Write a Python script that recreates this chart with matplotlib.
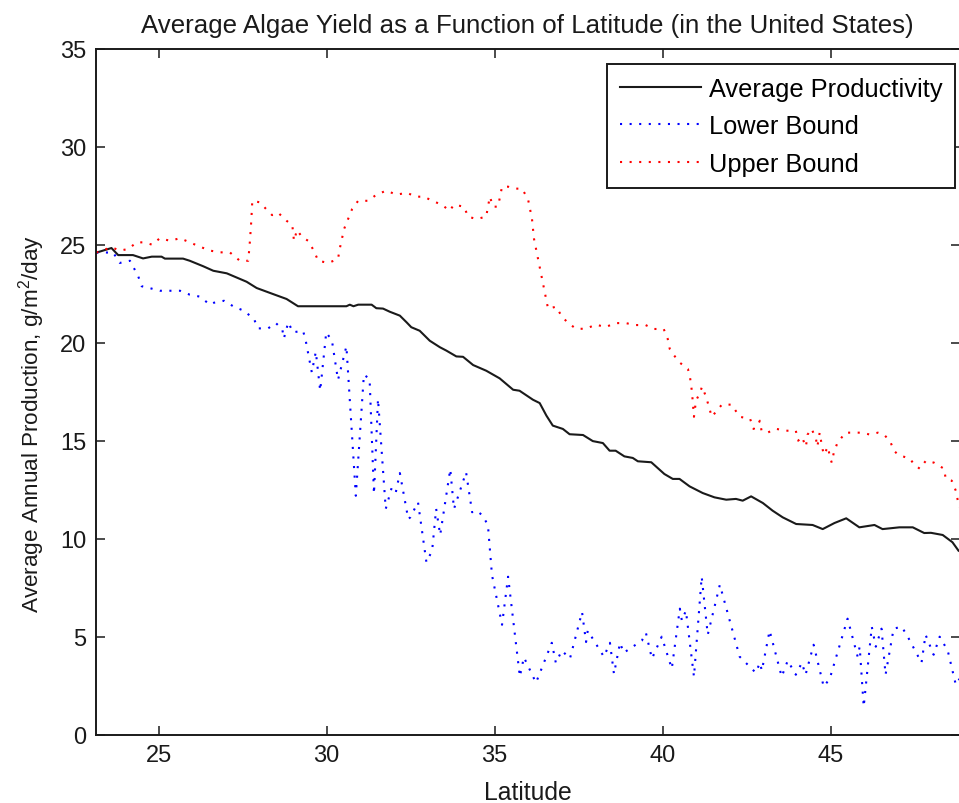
import matplotlib
matplotlib.use("Agg")
import matplotlib.pyplot as plt

# Average productivity curve
avg_lat = [23.16, 23.6, 23.8, 24.24, 24.54, 24.8, 25.09, 25.19, 25.73, 25.93,
           26.33, 26.63, 27.03, 27.62, 27.92, 28.41, 28.81, 29.15, 30.59, 30.69,
           30.8, 30.94, 31.34, 31.48, 31.68, 31.88, 32.18, 32.38, 32.52, 32.77,
           33.07, 33.37, 33.56, 33.86, 34.06, 34.36, 34.75, 35.15, 35.55, 35.74,
           36.14, 36.34, 36.54, 36.73, 37.03, 37.23, 37.63, 37.92, 38.22, 38.42,
           38.6, 38.86, 39.11, 39.26, 39.66, 40.05, 40.3, 40.5, 40.8, 41.19,
           41.54, 41.89, 42.18, 42.38, 42.63, 42.98, 43.27, 43.57, 43.97, 44.46,
           44.76, 45.11, 45.46, 45.85, 46.3, 46.54, 47.04, 47.44, 47.78, 47.98,
           48.33, 48.62, 48.8]
avg_val = [24.6, 24.83, 24.47, 24.47, 24.3, 24.39, 24.39, 24.29, 24.29, 24.18,
           23.9, 23.67, 23.54, 23.11, 22.79, 22.48, 22.23, 21.86, 21.86, 21.94,
           21.86, 21.94, 21.94, 21.76, 21.74, 21.58, 21.38, 21.04, 20.79, 20.61,
           20.1, 19.77, 19.6, 19.3, 19.28, 18.86, 18.57, 18.18, 17.6, 17.55,
           17.09, 16.92, 16.28, 15.77, 15.6, 15.33, 15.29, 14.98, 14.88, 14.49,
           14.49, 14.2, 14.12, 13.95, 13.9, 13.3, 13.05, 13.05, 12.67, 12.33,
           12.11, 11.99, 12.03, 11.94, 12.16, 11.82, 11.43, 11.09, 10.75, 10.7,
           10.49, 10.8, 11.04, 10.58, 10.7, 10.49, 10.58, 10.58, 10.29, 10.3,
           10.19, 9.82, 9.39]

# Lower bound
lower_lat = [23.15, 23.41, 23.65, 23.85, 24.15, 24.27, 24.4, 24.5, 24.75, 25.04,
             25.34, 25.64, 25.93, 26.23, 26.53, 26.65, 26.95, 27.24, 27.54, 27.84,
             27.96, 28.26, 28.49, 28.68, 28.73, 28.86, 29.0, 29.3, 29.38, 29.56,
             29.68, 29.81, 29.99, 30.16, 30.34, 30.59, 30.87, 31.11, 31.28, 31.41,
             31.53, 31.76, 31.94, 32.06, 32.18, 32.43, 32.49, 32.72, 32.97, 33.14,
             33.26, 33.38, 33.68, 33.79, 34.15, 34.33, 34.45, 34.63, 34.8, 34.92,
             35.22, 35.4, 35.75, 35.87, 36.23, 36.7, 36.82, 37.0, 37.24, 37.6,
             37.72, 37.77, 38.25, 38.43, 38.55, 38.73, 38.84, 39.38, 39.5, 39.68,
             39.97, 40.27, 40.51, 40.57, 40.69, 40.93, 41.16, 41.34, 41.7, 42.29,
             42.77, 42.89, 42.95, 43.18, 43.54, 43.72, 43.96, 44.14, 44.25, 44.49,
             44.79, 44.97, 45.5, 45.8, 45.86, 45.98, 46.22, 46.34, 46.51, 46.63,
             46.87, 47.11, 47.29, 47.7, 47.82, 48.06, 48.24, 48.48, 48.72, 48.83]
lower_val = [24.6, 24.6, 24.6, 24.07, 24.18, 23.8, 23.37, 22.88, 22.78, 22.65,
             22.65, 22.65, 22.45, 22.35, 21.94, 22.04, 22.14, 21.84, 21.63, 21.21,
             20.73, 20.73, 21.0, 20.7, 20.22, 21.04, 20.53, 20.61, 20.1, 18.49,
             19.54, 17.55, 20.53, 20.1, 18.1, 19.82, 12.19, 18.37, 18.15, 12.28,
             17.13, 11.52, 12.62, 12.37, 13.35, 11.0, 11.09, 11.86, 8.8, 9.39,
             11.52, 10.19, 13.55, 11.52, 13.39, 11.35, 11.43, 11.21, 10.7, 8.15,
             5.61, 8.06, 2.96, 3.95, 2.65, 4.69, 3.67, 4.29, 3.88, 6.26,
             4.73, 5.31, 3.98, 4.69, 3.1, 4.69, 4.18, 4.8, 5.2, 3.88,
             5.0, 3.37, 6.43, 5.82, 6.33, 2.96, 8.06, 5.1, 7.65, 3.98,
             3.16, 3.67, 3.27, 5.31, 2.96, 3.78, 3.06, 3.67, 3.06, 4.59,
             2.45, 2.86, 5.92, 3.98, 4.49, 1.43, 5.51, 4.49, 5.41, 3.06,
             5.41, 5.51, 5.0, 3.67, 5.1, 4.08, 5.0, 4.29, 2.55, 2.85]

# Upper bound
upper_lat = [23.15, 23.6, 23.85, 24.1, 24.35, 24.58, 24.81, 25.04, 25.34, 25.64,
             25.93, 26.23, 26.53, 26.83, 27.12, 27.42, 27.67, 27.72, 27.76, 27.79,
             28.02, 28.2, 28.38, 28.56, 28.81, 28.98, 29.03, 29.12, 29.27, 29.45,
             29.62, 29.75, 30.05, 30.34, 30.39, 30.52, 30.64, 30.76, 30.94, 31.24,
             31.48, 31.78, 32.08, 32.38, 32.67, 32.9, 33.14, 33.43, 33.66, 33.79,
             34.09, 34.21, 34.46, 34.75, 34.8, 34.86, 34.95, 35.1, 35.16, 35.22,
             35.4, 35.57, 35.81, 35.99, 36.11, 36.17, 36.29, 36.41, 36.53, 36.59,
             36.83, 37.0, 37.18, 37.42, 37.71, 38.01, 38.3, 38.6, 38.9, 39.19,
             39.49, 39.74, 40.03, 40.15, 40.21, 40.33, 40.51, 40.75, 40.81, 40.87,
             40.93, 40.99, 41.11, 41.17, 41.29, 41.46, 41.76, 42.05, 42.29, 42.6,
             42.7, 42.8, 42.89, 42.94, 43.12, 43.36, 43.66, 43.96, 44.03, 44.14,
             44.26, 44.31, 44.43, 44.56, 44.6, 44.67, 44.73, 44.79, 44.92, 44.97,
             45.03, 45.09, 45.2, 45.44, 45.74, 45.93, 46.17, 46.4, 46.58, 46.76,
             46.88, 47.0, 47.18, 47.36, 47.48, 47.65, 47.83, 48.07, 48.37, 48.42,
             48.6, 48.72, 48.78, 48.83]
upper_val = [24.6, 24.87, 24.7, 24.78, 25.12, 25.12, 25.0, 25.33, 25.2, 25.33,
             25.12, 24.9, 24.7, 24.61, 24.61, 24.18, 24.18, 25.2, 26.22, 27.24,
             27.16, 26.82, 26.51, 26.63, 26.22, 26.0, 25.2, 25.75, 25.39, 25.2,
             24.7, 24.18, 24.07, 24.27, 24.78, 25.8, 26.31, 26.82, 27.24, 27.24,
             27.55, 27.76, 27.55, 27.65, 27.45, 27.45, 27.24, 27.04, 26.73, 27.04,
             26.94, 26.43, 26.31, 26.43, 26.94, 27.45, 26.94, 26.94, 27.45, 27.96,
             27.96, 27.86, 27.86, 27.35, 26.33, 25.31, 24.29, 23.27, 22.24, 21.73,
             21.84, 21.33, 21.02, 20.71, 20.71, 20.92, 20.8, 21.0, 21.0, 20.9,
             20.9, 20.7, 20.7, 20.19, 19.68, 19.37, 18.98, 18.66, 18.27, 17.5,
             16.22, 17.04, 17.45, 17.76, 17.24, 16.22, 16.84, 16.84, 16.22, 16.12,
             15.6, 15.7, 16.02, 15.51, 15.41, 15.61, 15.51, 15.51, 15.0, 15.2,
             14.69, 15.31, 15.61, 15.09, 14.69, 15.41, 14.8, 14.29, 14.69, 14.18,
             13.88, 14.39, 14.9, 15.41, 15.41, 15.41, 15.31, 15.41, 15.31, 15.0,
             14.49, 14.29, 14.18, 14.08, 13.78, 13.57, 13.98, 13.88, 13.57, 13.06,
             12.96, 12.45, 11.94, 11.6]

x_ticks = [25, 30, 35, 40, 45]
y_ticks = [0, 5, 10, 15, 20, 25, 30, 35]

plt.rcParams["font.family"] = ["Liberation Sans", "DejaVu Sans"]
plt.rcParams["mathtext.default"] = "regular"

INK = "#1a1a1a"
W, H = 959, 804
fig = plt.figure(figsize=(W / 100, H / 100), dpi=100)
ax = fig.add_axes([96 / W, 1 - 735.7 / H, (959.5 - 96) / W, (735.7 - 49.7) / H])

dots = (0, (1, 3.6))
ax.plot(avg_lat, avg_val, color=INK, lw=1.5, label="Average Productivity")
ax.plot(lower_lat, lower_val, color="#0000ff", lw=1.5, linestyle=dots, label="Lower Bound")
ax.plot(upper_lat, upper_val, color="#ff0000", lw=1.5, linestyle=dots, label="Upper Bound")

ax.set_xlim(23.14, 48.83)
ax.set_ylim(0, 35)
ax.set_xticks(x_ticks)
ax.set_yticks(y_ticks)

ax.tick_params(direction="in", length=6.5, width=1.1, top=True, right=True,
               labelsize=17, pad=7, colors=INK, labelcolor=INK)
for sp in ax.spines.values():
    sp.set_linewidth(1.4)
    sp.set_color(INK)

ax.set_title("Average Algae Yield as a Function of Latitude (in the United States)",
             fontsize=18.6, pad=12, color=INK)
ax.set_xlabel("Latitude", fontsize=17.8, labelpad=10, color=INK)
ax.set_ylabel("Average Annual Production, g/m$^2$/day", fontsize=16.2, color=INK)
ax.yaxis.set_label_coords(47 / W, 1 - 423.5 / H, transform=fig.transFigure)

leg = ax.legend(loc="upper right", bbox_to_anchor=(955 / W, 1 - 65 / H),
                bbox_transform=fig.transFigure, borderaxespad=0, fontsize=18.3,
                handlelength=3.2, handletextpad=0.3, labelspacing=0.53,
                borderpad=0.5, fancybox=False, framealpha=1)
leg.get_frame().set_edgecolor(INK)
leg.get_frame().set_linewidth(1.4)

fig.savefig("out.png", dpi=100)
